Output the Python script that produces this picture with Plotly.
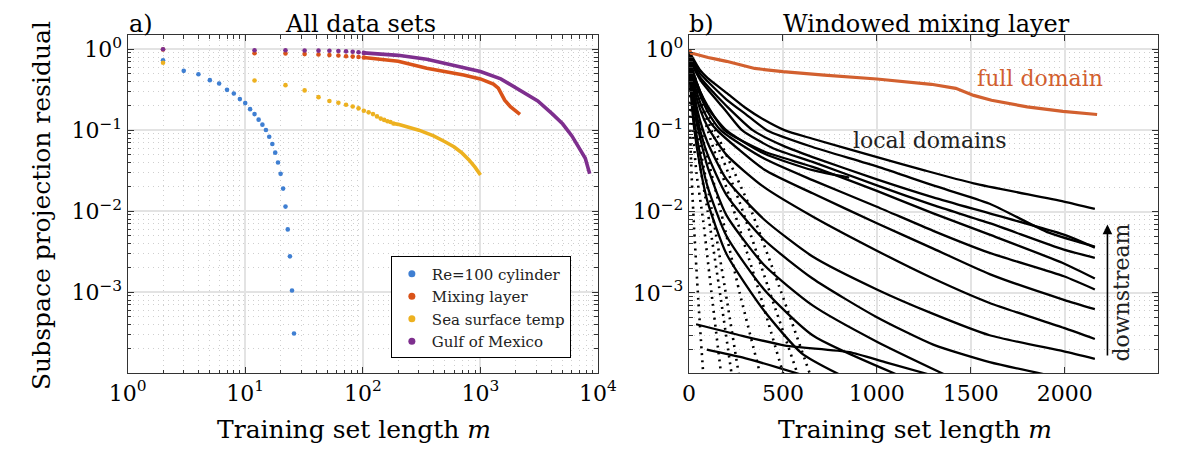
import plotly.graph_objects as go

# ---------------- Panel a) : all data sets ----------------
cyl_m = [2, 3, 4, 5, 6, 7, 8, 9, 10, 11, 12, 13, 14, 15, 16, 17, 18, 19, 20, 21, 22, 23, 24, 25, 26]
cyl_r = [0.73, 0.54, 0.49, 0.415, 0.377, 0.315, 0.284, 0.242, 0.216, 0.182, 0.158, 0.135, 0.117,
         0.1005, 0.083, 0.0676, 0.0528, 0.040, 0.0289, 0.019, 0.0114, 0.00596, 0.00277, 0.00105, 0.000309]

mix_dot_m = [2, 12, 22, 32, 42, 52, 62, 72, 82, 92, 102]
mix_dot_r = [0.99, 0.89, 0.885, 0.87, 0.86, 0.845, 0.835, 0.82, 0.81, 0.80, 0.79]
mix_line_m = [102, 150, 200, 350, 500, 720, 1000, 1290, 1420, 1515, 1610, 1800, 1990, 2172]
mix_line_r = [0.79, 0.75, 0.71, 0.58, 0.53, 0.48, 0.43, 0.37, 0.33, 0.27, 0.235, 0.195, 0.172, 0.157]

sst_dot_m = [2, 12, 22, 32, 42, 52, 62, 72, 82, 92, 102, 112, 122, 132, 142, 152, 162, 172, 182]
sst_dot_r = [0.68, 0.41, 0.36, 0.31, 0.256, 0.229, 0.218, 0.206, 0.196, 0.186, 0.174, 0.166, 0.158,
             0.148, 0.139, 0.134, 0.129, 0.126, 0.121]
sst_line_m = [182, 200, 300, 400, 500, 600, 700, 800, 900, 1002]
sst_line_r = [0.121, 0.118, 0.1, 0.085, 0.072, 0.062, 0.052, 0.043, 0.035, 0.028]

gulf_dot_m = [2, 12, 22, 32, 42, 52, 62, 72, 82, 92, 102]
gulf_dot_r = [1.0, 0.97, 0.97, 0.965, 0.96, 0.955, 0.95, 0.94, 0.93, 0.915, 0.90]
gulf_line_m = [102, 150, 200, 350, 720, 1000, 1490, 2130, 3076, 4110, 5000, 6000, 7000, 7800, 8500]
gulf_line_r = [0.90, 0.87, 0.84, 0.75, 0.59, 0.53, 0.43, 0.32, 0.23, 0.158, 0.12, 0.085, 0.058, 0.045, 0.029]

# ---------------- Panel b) : windowed mixing layer (local domains) ----------------
local_s1 = [(0, 0.95), (25, 0.75), (60, 0.55), (100, 0.44), (200, 0.29), (300, 0.19), (400, 0.135),
            (511, 0.1), (658, 0.079), (1001, 0.047), (1258, 0.032), (1515, 0.0223), (1995, 0.0133),
            (2160, 0.0108)]
local_s2 = [(0, 0.95), (25, 0.7), (60, 0.5), (100, 0.4), (200, 0.24), (300, 0.16), (417, 0.1),
            (658, 0.0625), (1000, 0.036), (1300, 0.021), (1600, 0.0125), (1915, 0.0055), (2160, 0.0037)]
local_s3 = [(0, 0.9), (25, 0.65), (60, 0.45), (100, 0.35), (200, 0.2), (341, 0.1), (500, 0.065),
            (658, 0.047), (1000, 0.025), (1300, 0.015), (1600, 0.0095), (1995, 0.0052), (2160, 0.0036)]
local_s4 = [(0, 0.9), (25, 0.6), (60, 0.42), (100, 0.32), (200, 0.17), (284, 0.1), (450, 0.06),
            (658, 0.041), (1000, 0.021), (1300, 0.012), (1600, 0.0072), (1995, 0.0034), (2160, 0.0027)]
local_s5 = [(0, 0.85), (25, 0.5), (60, 0.3), (100, 0.2), (190, 0.1), (400, 0.055), (658, 0.0356),
            (1000, 0.018), (1300, 0.0095), (1600, 0.0052), (1995, 0.0023), (2160, 0.0015)]
local_short = [(0, 0.85), (25, 0.5), (60, 0.3), (100, 0.19), (200, 0.1), (400, 0.052), (658, 0.0324),
               (853, 0.0263)]
local_s6 = [(0, 0.85), (25, 0.45), (60, 0.27), (100, 0.17), (170, 0.1), (400, 0.045), (658, 0.0244),
            (1000, 0.0115), (1300, 0.0058), (1600, 0.0031), (1995, 0.0016), (2160, 0.0011)]
local_s7 = [(0, 0.8), (25, 0.4), (60, 0.22), (100, 0.14), (150, 0.1), (400, 0.033), (658, 0.0168),
            (1000, 0.0072), (1300, 0.0035), (1600, 0.0017), (1995, 0.00082), (2160, 0.00063)]
local_s8 = [(0, 0.8), (25, 0.35), (60, 0.18), (100, 0.11), (200, 0.05), (400, 0.02), (658, 0.0087),
            (1000, 0.0033), (1300, 0.0015), (1600, 0.00075), (1995, 0.00037), (2160, 0.00027)]
local_s9 = [(0, 0.75), (25, 0.3), (60, 0.13), (100, 0.07), (200, 0.025), (400, 0.008), (658, 0.0028),
            (1000, 0.0011), (1300, 0.00055), (1600, 0.0003), (1995, 0.00019), (2160, 0.000154)]
local_s10 = [(0, 0.7), (25, 0.25), (60, 0.1), (100, 0.05), (200, 0.016), (400, 0.0045), (658, 0.0015),
             (1000, 0.0005), (1300, 0.00023), (1600, 0.00014), (1886, 0.0001)]
local_s11 = [(0, 0.7), (25, 0.2), (60, 0.08), (100, 0.035), (200, 0.009), (400, 0.0022), (658, 0.0007),
             (1000, 0.00025), (1355, 0.0001)]
local_s12 = [(0, 0.65), (25, 0.15), (60, 0.05), (100, 0.02), (200, 0.005), (400, 0.0011), (658, 0.0003),
             (1100, 0.0001)]
local_s13 = [(0, 0.6), (25, 0.12), (60, 0.035), (100, 0.013), (200, 0.003), (400, 0.0006), (600, 0.00018),
             (796, 0.0001)]
local_low1 = [(38, 0.00041), (284, 0.000295), (512, 0.000224), (853, 0.000186), (1043, 0.00014),
              (1270, 0.0001)]
local_low2 = [(95, 0.0002), (284, 0.00016), (474, 0.00012), (588, 0.0001)]

local_d1 = [(0, 0.5), (10, 0.05), (25, 0.008), (50, 0.0008), (76, 0.0001)]
local_d2 = [(0, 0.6), (15, 0.15), (40, 0.03), (75, 0.008), (120, 0.001), (171, 0.0001)]
local_d3 = [(0, 0.65), (20, 0.2), (50, 0.05), (100, 0.01), (160, 0.0012), (227, 0.0001)]
local_d4 = [(0, 0.7), (20, 0.25), (60, 0.06), (120, 0.011), (190, 0.0012), (265, 0.0001)]
local_d5 = [(0, 0.75), (30, 0.25), (80, 0.07), (170, 0.01), (270, 0.001), (379, 0.0001)]
local_d6 = [(0, 0.8), (40, 0.3), (100, 0.1), (230, 0.012), (370, 0.0011), (502, 0.0001)]
local_d7 = [(0, 0.8), (40, 0.32), (120, 0.1), (270, 0.013), (420, 0.0012), (578, 0.0001)]
local_d8 = [(0, 0.8), (50, 0.33), (140, 0.1), (320, 0.012), (480, 0.0012), (644, 0.0001)]

solid_curves = [local_s1, local_s2, local_s3, local_s4, local_s5, local_short, local_s6, local_s7,
                local_s8, local_s9, local_s10, local_s11, local_s12, local_s13, local_low1, local_low2]
dotted_curves = [local_d1, local_d2, local_d3, local_d4, local_d5, local_d6, local_d7, local_d8]

# tick labels
logx_vals = [1, 10, 100, 1000, 10000]
logx_text = ["10<sup>0</sup>", "10<sup>1</sup>", "10<sup>2</sup>", "10<sup>3</sup>", "10<sup>4</sup>"]
logy_vals = [1, 0.1, 0.01, 0.001]
logy_text = ["10<sup>0</sup>", "10<sup>\u22121</sup>", "10<sup>\u22122</sup>", "10<sup>\u22123</sup>"]
linx_vals = [0, 500, 1000, 1500, 2000]
linx_text = ["0", "500", "1000", "1500", "2000"]

# ---------------- styling ----------------
W, H = 1178, 450
OFF = 8  # the page body adds an 8px margin; compensate so the figure sits at the window origin
FONT = "DejaVu Serif"
C_BLUE = "#3F7FD2"
C_ORANGE = "#D95319"
C_YELLOW = "#EDB120"
C_PURPLE = "#7E2F8E"
C_FULL = "#D2602F"

def px_x(p):
    return (p - OFF) / W

def px_y(p):
    return 1 - (p - OFF) / H

xa_dom = [px_x(112), px_x(598)]
xb_dom = [px_x(692), px_x(1176.5)]
y_dom = [px_y(373), px_y(34)]

fig = go.Figure()

MS = 4.6
fig.add_trace(go.Scatter(x=cyl_m, y=cyl_r, mode="markers", marker=dict(color=C_BLUE, size=MS),
                         showlegend=False, xaxis="x", yaxis="y"))
fig.add_trace(go.Scatter(x=mix_dot_m, y=mix_dot_r, mode="markers", marker=dict(color=C_ORANGE, size=MS),
                         showlegend=False, xaxis="x", yaxis="y"))
fig.add_trace(go.Scatter(x=mix_line_m, y=mix_line_r, mode="lines", line=dict(color=C_ORANGE, width=3.6),
                         showlegend=False, xaxis="x", yaxis="y"))
fig.add_trace(go.Scatter(x=sst_dot_m, y=sst_dot_r, mode="markers", marker=dict(color=C_YELLOW, size=MS),
                         showlegend=False, xaxis="x", yaxis="y"))
fig.add_trace(go.Scatter(x=sst_line_m, y=sst_line_r, mode="lines", line=dict(color=C_YELLOW, width=3.6),
                         showlegend=False, xaxis="x", yaxis="y"))
fig.add_trace(go.Scatter(x=gulf_dot_m, y=gulf_dot_r, mode="markers", marker=dict(color=C_PURPLE, size=MS),
                         showlegend=False, xaxis="x", yaxis="y"))
fig.add_trace(go.Scatter(x=gulf_line_m, y=gulf_line_r, mode="lines", line=dict(color=C_PURPLE, width=3.6),
                         showlegend=False, xaxis="x", yaxis="y"))

for name, col in [("Re=100 cylinder", C_BLUE), ("Mixing layer", C_ORANGE),
                  ("Sea surface temp", C_YELLOW), ("Gulf of Mexico", C_PURPLE)]:
    fig.add_trace(go.Scatter(x=[None], y=[None], mode="markers", name=name,
                             marker=dict(color=col, size=7), xaxis="x", yaxis="y"))

for c in solid_curves:
    fig.add_trace(go.Scatter(x=[p[0] for p in c], y=[p[1] for p in c], mode="lines",
                             line=dict(color="black", width=2.3, shape="spline", smoothing=0.6),
                             showlegend=False, xaxis="x2", yaxis="y2"))
for c in dotted_curves:
    fig.add_trace(go.Scatter(x=[p[0] for p in c], y=[p[1] for p in c], mode="lines",
                             line=dict(color="black", width=2.6, dash="2px,5px", shape="spline",
                                       smoothing=0.6),
                             showlegend=False, xaxis="x2", yaxis="y2"))
full_m = mix_dot_m + mix_line_m[1:]
full_r = mix_dot_r + mix_line_r[1:]
fig.add_trace(go.Scatter(x=full_m, y=full_r, mode="lines", line=dict(color=C_FULL, width=3.2),
                         showlegend=False, xaxis="x2", yaxis="y2"))

GRID = "#e3e3e3"
MINOR_GRID = "#cfcfcf"
AXC = "#333333"
TICKF = dict(family=FONT, size=22, color="black")

log_minor = [d * 10 ** e for e in range(-5, 5) for d in range(2, 10)]
minor_log = dict(tickmode="array", tickvals=log_minor, ticks="inside", ticklen=3.5,
                 tickcolor=AXC, showgrid=True, gridcolor=MINOR_GRID, griddash="1px,4px", gridwidth=1)

common = dict(showline=True, linecolor=AXC, linewidth=1.3, mirror="allticks", ticks="inside",
              ticklen=6, tickwidth=1.2, tickcolor=AXC, showgrid=True, gridcolor=GRID, gridwidth=1.6,
              zeroline=False, tickfont=TICKF, tickmode="array")

fig.update_layout(
    width=W, height=H, margin=dict(l=0, r=0, t=0, b=0),
    paper_bgcolor="white", plot_bgcolor="white",
    font=dict(family=FONT, color="black"),
    xaxis=dict(type="log", domain=xa_dom, range=[0, 4], tickvals=logx_vals, ticktext=logx_text,
               anchor="y", minor=minor_log, **common),
    yaxis=dict(type="log", domain=y_dom, range=[-4, 0.176], tickvals=logy_vals, ticktext=logy_text,
               anchor="x", minor=minor_log, **common),
    xaxis2=dict(type="linear", domain=xb_dom, range=[0, 2495], tickvals=linx_vals, ticktext=linx_text,
                anchor="y2", **common),
    yaxis2=dict(type="log", domain=y_dom, range=[-3.99, 0.176], tickvals=logy_vals, ticktext=logy_text,
                anchor="x2", minor=minor_log, **common),
    legend=dict(x=px_x(384), y=px_y(256), xanchor="left", yanchor="top", bgcolor="white",
                bordercolor="black", borderwidth=1, font=dict(family=FONT, size=15, color="#222"),
                tracegroupgap=0, itemwidth=30),
    showlegend=True,
)

TF = dict(family=FONT, size=24, color="black")
XF = dict(family=FONT, size=25, color="black")
AF = dict(family=FONT, size=22, color="#222")
ann = [
    dict(text="a)", x=px_x(111), y=px_y(23), xref="paper", yref="paper", xanchor="left",
         yanchor="middle", showarrow=False, font=TF),
    dict(text="All data sets", x=px_x(353), y=px_y(23), xref="paper", yref="paper", xanchor="center",
         yanchor="middle", showarrow=False, font=TF),
    dict(text="b)", x=px_x(690), y=px_y(23), xref="paper", yref="paper", xanchor="left",
         yanchor="middle", showarrow=False, font=TF),
    dict(text="Windowed mixing layer", x=px_x(937), y=px_y(23), xref="paper", yref="paper",
         xanchor="center", yanchor="middle", showarrow=False, font=TF),
    dict(text="Subspace projection residual", x=px_x(23), y=px_y(205), xref="paper", yref="paper",
         xanchor="center", yanchor="middle", textangle=-90, showarrow=False, font=XF),
    dict(text="Training set length <i>m</i>", x=px_x(346), y=px_y(429), xref="paper", yref="paper",
         xanchor="center", yanchor="middle", showarrow=False, font=XF),
    dict(text="Training set length <i>m</i>", x=px_x(926), y=px_y(429), xref="paper", yref="paper",
         xanchor="center", yanchor="middle", showarrow=False, font=XF),
    dict(text="full domain", x=1866, y=-0.355, xref="x2", yref="y2", xanchor="center",
         yanchor="middle", showarrow=False, font=dict(family=FONT, size=22, color=C_FULL)),
    dict(text="local domains", x=1284, y=-1.122, xref="x2", yref="y2", xanchor="center",
         yanchor="middle", showarrow=False, font=AF),
    dict(text="downstream", x=2303, y=-3.0, xref="x2", yref="y2", xanchor="center",
         yanchor="middle", textangle=-90, showarrow=False, font=AF),
    dict(x=2227, y=-2.16, ax=2227, ay=-3.79, xref="x2", yref="y2", axref="x2", ayref="y2",
         text="", showarrow=True, arrowhead=2, arrowsize=1.2, arrowwidth=1.6, arrowcolor="black"),
]
fig.update_layout(annotations=ann)

fig.write_html("out.html")
